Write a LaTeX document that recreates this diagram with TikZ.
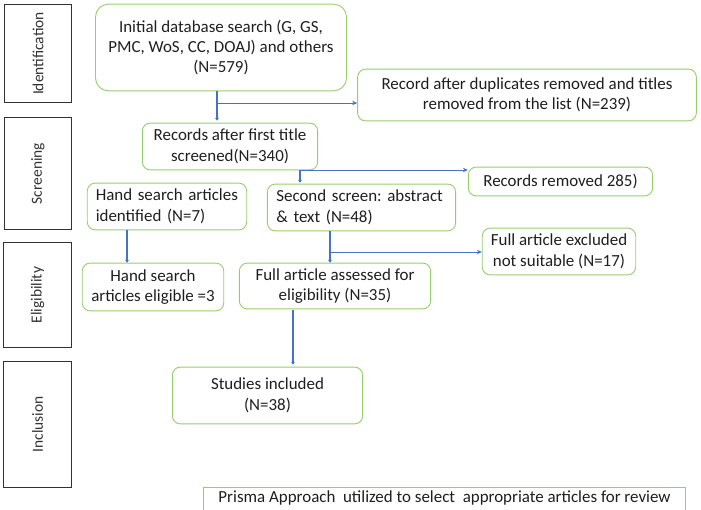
\documentclass[tikz,border=0pt]{standalone}
\usepackage{fontspec}
\setmainfont{Carlito}
\frenchspacing
\usetikzlibrary{arrows.meta}
\definecolor{gline}{RGB}{150,206,110}
\definecolor{bline}{RGB}{68,114,196}
\definecolor{txt}{RGB}{30,30,30}
\definecolor{side}{RGB}{50,50,50}
\tikzset{
  gbox/.style={draw=gline, line width=0.9pt, rounded corners=8, inner sep=0pt, align=center, text=txt, font=\fontsize{17}{20.5}\selectfont},
  sidebox/.style={draw=side, line width=0.9pt, inner sep=0pt},
  sidelabel/.style={rotate=90, text=side, font=\fontsize{15.5}{18}\selectfont},
  thickarr/.style={draw=bline, line width=2.6pt, -{Stealth[length=3pt,width=4pt]}},
  thinarr/.style={draw=bline, line width=0.9pt, -{Stealth[length=5pt,width=4.5pt]}}
}
\begin{document}
\begin{tikzpicture}[x=1bp,y=-1bp]
\useasboundingbox (0,0) rectangle (701,510);
\clip (0,0) rectangle (701,510);
% side boxes
\node[sidebox, minimum width=68, minimum height=99] (sid) at (38,53.5) {};
\node[sidelabel] (lid) at (sid.center) {Identification};
\node[sidebox, minimum width=68, minimum height=113] (ssc) at (38,173.5) {};
\node[sidelabel] (lsc) at (ssc.center) {Screening};
\node[sidebox, minimum width=69, minimum height=106] (sel) at (37.5,295) {};
\node[sidelabel] (lel) at (sel.center) {Eligibility};
\node[sidebox, minimum width=69, minimum height=127] (sin) at (37.5,424.5) {};
\node[sidelabel] (lin) at (sin.center) {Inclusion};
% main boxes
\node[gbox, rounded corners=13, minimum width=252, minimum height=87] (init) at (221,47.5)
  {Initial database search (G, GS,\\PMC, WoS, CC, DOAJ) and others\\(N=579)};
\node[gbox, minimum width=340, minimum height=52] (dup) at (527,95)
  {Record after duplicates removed and titles\\removed from the list (N=239)};
\node[gbox, minimum width=176, minimum height=47] (r1) at (230,146.5)
  {Records after first title\\screened(N=340)};
\node[gbox, minimum width=160, minimum height=47, align=left, text width=143] (hs1) at (167,206.5)
  {Hand search articles\\identified (N=7)};
\node[gbox, minimum width=189, minimum height=47, align=left, text width=171] (sec) at (361.5,207.5)
  {Second screen: abstract\\\& text (N=48)};
\node[gbox, minimum width=185, minimum height=29] (rem) at (560.5,181.5)
  {Records removed 285)};
\node[gbox, minimum width=154, minimum height=47] (exc) at (559,251.5)
  {Full article excluded\\not suitable (N=17)};
\node[gbox, minimum width=142, minimum height=48] (hs2) at (153,287)
  {Hand search\\articles eligible =3};
\node[gbox, minimum width=192, minimum height=46] (ful) at (335,286)
  {Full article assessed for\\eligibility (N=35)};
\node[gbox, minimum width=191, minimum height=57] (stu) at (267.5,395.5)
  {Studies included\\(N=38)};
\node[text=txt, font=\fontsize{17}{20.5}\selectfont, minimum width=483, minimum height=20, inner sep=0pt] (pri) at (444.5,498)
  {Prisma Approach\ \ utilized to select\ \ appropriate articles for review};
\draw[draw=gline, line width=0.9pt] ([yshift=-20pt]pri.south west) -- (pri.north west) -- (pri.north east) -- ([yshift=-20pt]pri.south east);
% helper coordinates
\coordinate (xa) at (217,0);
\coordinate (xb) at (300,0);
\coordinate (xc) at (127,0);
\coordinate (xd) at (330,0);
\coordinate (xe) at (293,0);
\coordinate (ja) at (217,103);
\coordinate (jb) at (300,170);
\coordinate (jd) at (330,252);
% connectors
\draw[thickarr] (init.south -| xa) -- ([yshift=2pt]r1.north -| xa);
\draw[thinarr] (ja) -- (dup.west |- ja);
\draw[thickarr] (r1.south -| xb) -- ([yshift=1pt]sec.north -| xb);
\draw[thinarr] (jb) -- (rem.west |- jb);
\draw[thickarr] (hs1.south -| xc) -- (hs2.north -| xc);
\draw[thickarr] (sec.south -| xd) -- (ful.north -| xd);
\draw[thinarr] (jd) -- (exc.west |- jd);
\draw[thickarr] ([yshift=-1pt]ful.south -| xe) -- ([yshift=2pt]stu.north -| xe);
\end{tikzpicture}
\end{document}
